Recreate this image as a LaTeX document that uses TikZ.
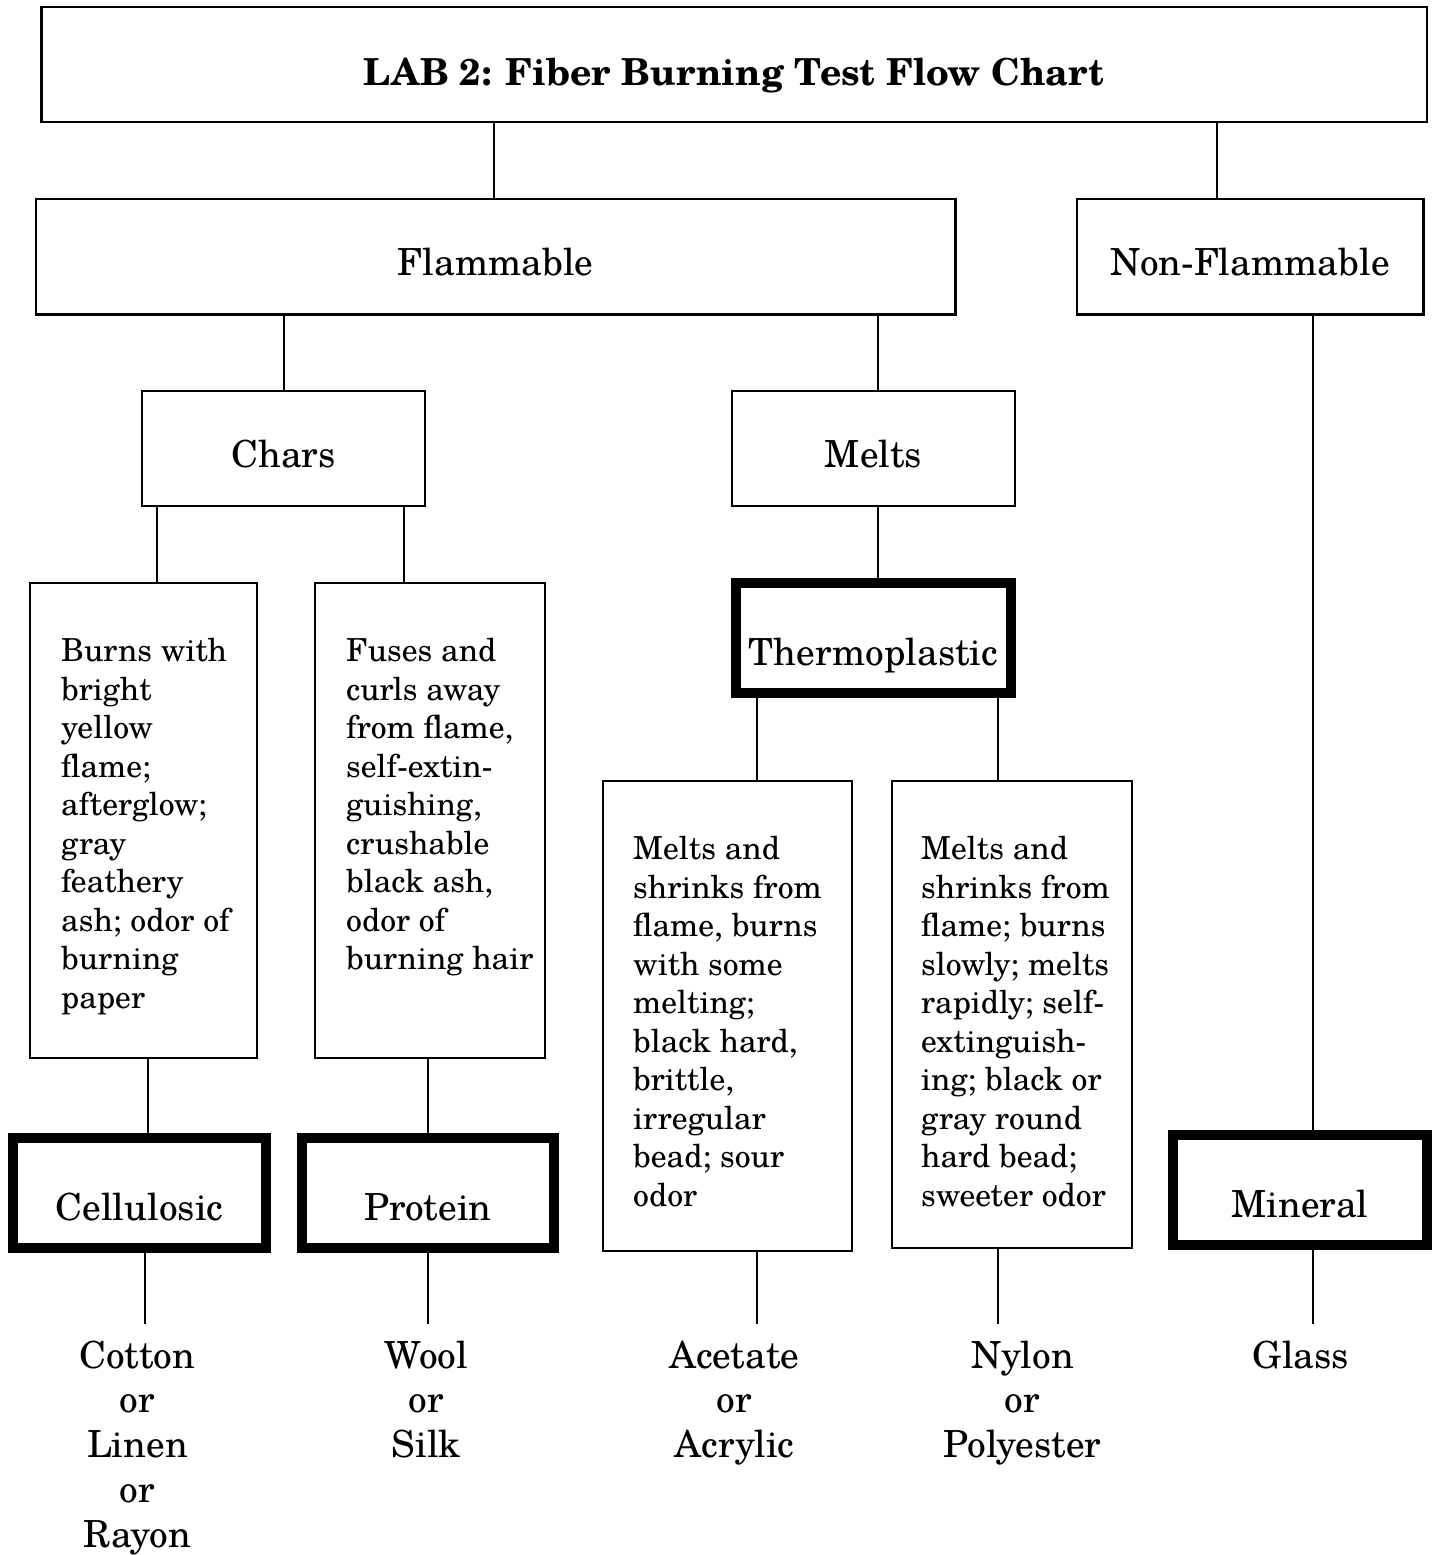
\documentclass[tikz,border=0pt]{standalone}
\usepackage{fontspec}
\setmainfont{TeX Gyre Schola}
\begin{document}
\begin{tikzpicture}[x=1pt,y=-1pt,
  box/.style={draw, rectangle, line width=2.6pt, inner sep=0pt,
    font=\fontsize{37.3}{44.8}\selectfont, text height=37.6, text depth=0},
  titlebox/.style={box, font=\fontsize{37.2}{44.6}\bfseries\selectfont, text height=41, text depth=0},
  thickbox/.style={box, line width=10pt, text height=54, text depth=0},
  desc/.style={inner sep=0pt, anchor=north west, align=left,
    font=\fontsize{31.7}{38.5}\selectfont},
  result/.style={inner sep=0pt, anchor=north, align=center,
    font=\fontsize{37.3}{44.8}\selectfont},
  conn/.style={line width=2.6pt}]
\useasboundingbox[fill=white] (0,0) rectangle (1435,1555);

% boxes
\node[titlebox, minimum width=1385.5, minimum height=115] (title) at (734.25,64.5) {LAB 2: Fiber Burning Test Flow Chart};
\node[box, minimum width=919.5, minimum height=115.5] (flam) at (495.75,256.75) {Flammable};
\node[box, minimum width=346.5, minimum height=115.5] (nonflam) at (1250.25,256.75) {Non-Flammable};
\node[box, minimum width=283, minimum height=115] (chars) at (283.5,448.5) {Chars};
\node[box, minimum width=283, minimum height=115] (melts) at (873.5,448.5) {Melts};
\node[box, minimum width=227, minimum height=475] (b1) at (143.5,820.5) {};
\node[box, minimum width=230, minimum height=475] (b2) at (430,820.5) {};
\node[thickbox, minimum width=275, minimum height=110] (thermo) at (873.5,638) {Thermoplastic};
\node[box, minimum width=249, minimum height=470] (m1) at (727.5,1016) {};
\node[box, minimum width=240, minimum height=467] (m2) at (1012,1014.5) {};
\node[thickbox, minimum width=253, minimum height=110] (cell) at (139.5,1193) {Cellulosic};
\node[thickbox, minimum width=252, minimum height=110] (prot) at (428,1193) {Protein};
\node[thickbox, minimum width=254, minimum height=110] (mineral) at (1300,1190) {Mineral};

% descriptions
\node[desc] (t1) at (61,638.2) {Burns with\\bright\\yellow\\flame;\\afterglow;\\gray\\feathery\\ash; odor of\\burning\\paper};
\node[desc] (t2) at (346,638.2) {Fuses and\\curls away\\from flame,\\self-extin-\\guishing,\\crushable\\black ash,\\odor of\\burning hair};
\node[desc] (t3) at (633,836.2) {Melts and\\shrinks from\\flame, burns\\with some\\melting;\\black hard,\\brittle,\\irregular\\bead; sour\\odor};
\node[desc] (t4) at (921,836.2) {Melts and\\shrinks from\\flame; burns\\slowly; melts\\rapidly; self-\\extinguish-\\ing; black or\\gray round\\hard bead;\\sweeter odor};

% results
\node[result] (r1) at (137.5,1340.4) {Cotton\\or\\Linen\\or\\Rayon};
\node[result] (r2) at (426.5,1340.4) {Wool\\or\\Silk};
\node[result] (r3) at (734.5,1340.4) {Acetate\\or\\Acrylic};
\node[result] (r4) at (1022.5,1340.4) {Nylon\\or\\Polyester};
\node[result] (r5) at (1301,1340.4) {Glass};

% connector x positions
\coordinate (xa) at (494,0);
\coordinate (xb) at (1217,0);
\coordinate (xc) at (284,0);
\coordinate (xd) at (878,0);
\coordinate (xe) at (157,0);
\coordinate (xf) at (404,0);
\coordinate (xg) at (757,0);
\coordinate (xh) at (998,0);
\coordinate (xi) at (148,0);
\coordinate (xj) at (428,0);
\coordinate (xk) at (1313,0);
% free ends of the bottom connectors
\coordinate (e1) at (145,1324);
\coordinate (e2) at (428,1324);
\coordinate (e3) at (757,1324);
\coordinate (e4) at (998,1324);
\coordinate (e5) at (1313,1324);

\draw[conn] (title.south -| xa) -- (flam.north -| xa);
\draw[conn] (title.south -| xb) -- (nonflam.north -| xb);
\draw[conn] (flam.south -| xc) -- (chars.north -| xc);
\draw[conn] (flam.south -| xd) -- (melts.north -| xd);
\draw[conn] (chars.south -| xe) -- (b1.north -| xe);
\draw[conn] (chars.south -| xf) -- (b2.north -| xf);
\draw[conn] (melts.south -| xd) -- (thermo.north -| xd);
\draw[conn] (thermo.south -| xg) -- (m1.north -| xg);
\draw[conn] (thermo.south -| xh) -- (m2.north -| xh);
\draw[conn] (b1.south -| xi) -- (cell.north -| xi);
\draw[conn] (b2.south -| xj) -- (prot.north -| xj);
\draw[conn] (nonflam.south -| xk) -- (mineral.north -| xk);
\draw[conn] (cell.south -| e1) -- (e1);
\draw[conn] (prot.south -| e2) -- (e2);
\draw[conn] (m1.south -| e3) -- (e3);
\draw[conn] (m2.south -| e4) -- (e4);
\draw[conn] (mineral.south -| e5) -- (e5);
\end{tikzpicture}
\end{document}
